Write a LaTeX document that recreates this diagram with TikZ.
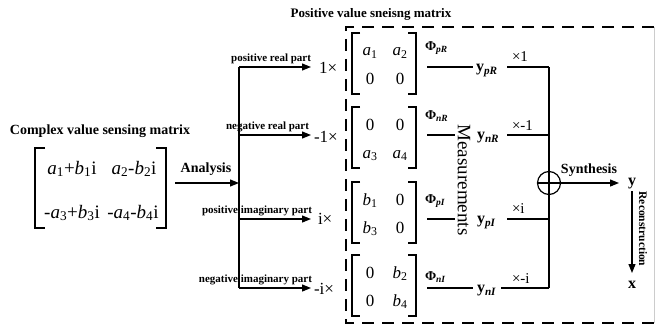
\documentclass[tikz,border=0pt]{standalone}
\usepackage{fontspec}
\setmainfont{Liberation Serif}
\usetikzlibrary{arrows.meta}
\newcommand\ent[2]{\textit{#1}\textsubscript{#2}}
\newcommand\bsub[2]{\textbf{#1}\textsubscript{\textbf{\textit{#2}}}}
\begin{document}
\begin{tikzpicture}[x=1pt,y=-1pt, line width=1.2pt,
  every node/.style={inner sep=0pt, outer sep=0pt},
  arr/.style={-{Triangle[length=9pt,width=7pt]}},
  title/.style={font=\fontsize{14}{16}\selectfont\bfseries},
  part/.style={font=\fontsize{11}{13}\selectfont\bfseries, anchor=south east},
  bigent/.style={font=\fontsize{19}{21}\selectfont, anchor=base},
  ent/.style={font=\fontsize{17}{19}\selectfont, anchor=base},
  mult/.style={font=\fontsize{17}{19}\selectfont, anchor=base west},
  phi/.style={font=\fontsize{13.5}{15}\selectfont, anchor=west},
  yl/.style={font=\fontsize{16}{18}\selectfont, anchor=base west},
  fac/.style={font=\fontsize{15}{17}\selectfont, anchor=base west},
  dbox/.style={dash pattern=on 12pt off 8pt, line width=1.3pt}
]
\useasboundingbox (0,0) rectangle (655,329);

% titles
\node[title] (t1) at (100,131) {Complex value sensing matrix};
\node[title, font=\fontsize{13}{15}\selectfont\bfseries] (t2) at (371,14) {Positive value sneisng matrix};

% big matrix
\draw (45,148) -| (35,228) -- (45,228);
\draw (156,148) -| (166,228) -- (156,228);
\node[bigent] (c11) at (72,174) {\ent{a}{1}+\ent{b}{1}i};
\node[bigent] (c12) at (134,174) {\ent{a}{2}-\ent{b}{2}i};
\node[bigent] (c21) at (72,218) {-\ent{a}{3}+\ent{b}{3}i};
\node[bigent] (c22) at (133,218) {-\ent{a}{4}-\ent{b}{4}i};

% analysis
\coordinate (an0) at (175,183);
\coordinate (an1) at (239,183);
\draw[arr] (an0) -- (an1);
\node[title, anchor=south] (anl) at (206,176) {Analysis};

% splitting bus
\coordinate (s1) at (239,67);
\coordinate (s2) at (239,135);
\coordinate (s3) at (239,219);
\coordinate (s4) at (239,288);
\draw (s1) -- (s4);
\coordinate (e1) at (311,67);
\coordinate (e2) at (311,135);
\coordinate (e3) at (311,219);
\coordinate (e4) at (311,288);
\draw[arr] (s1) -- (e1);
\draw[arr] (s2) -- (e2);
\draw[arr] (s3) -- (e3);
\draw[arr] (s4) -- (e4);
\node[part] (p1) at (311,64) {positive real part};
\node[part] (p2) at (309,132) {negative real part};
\node[part] (p3) at (312,216) {positive imaginary part};
\node[part] (p4) at (312,285) {negative imaginary part};

% multipliers
\node[mult] (m1) at (319,74) {1×};
\node[mult] (m2) at (314,142) {-1×};
\node[mult] (m3) at (318,224) {i×};
\node[mult] (m4) at (314,294) {-i×};

% dashed box
\draw[dbox] (654,27) -- (346,27) -- (346,323) -- (654,323);
\draw[black!20, line width=0.8pt] (654,27) -- (654,323);

% small matrices
\foreach \t in {33,107,182,255}{
  \draw (360,\t) -| (352,\t+61) -- (360,\t+61);
  \draw (408,\t) -| (416,\t+61) -- (408,\t+61);
}
\node[ent] (a11) at (370,56) {\ent{a}{1}};
\node[ent] (a12) at (400,56) {\ent{a}{2}};
\node[ent] (a21) at (370,84) {0};
\node[ent] (a22) at (400,84) {0};
\node[ent] (b11) at (370,130) {0};
\node[ent] (b12) at (400,130) {0};
\node[ent] (b21) at (370,158) {\ent{a}{3}};
\node[ent] (b22) at (400,158) {\ent{a}{4}};
\node[ent] (c11s) at (370,205) {\ent{b}{1}};
\node[ent] (c12s) at (400,205) {0};
\node[ent] (c21s) at (370,233) {\ent{b}{3}};
\node[ent] (c22s) at (400,233) {0};
\node[ent] (d11) at (370,278) {0};
\node[ent] (d12) at (400,278) {\ent{b}{2}};
\node[ent] (d21) at (370,306) {0};
\node[ent] (d22) at (400,306) {\ent{b}{4}};

% Phi labels
\node[phi] (f1) at (425,48) {\bsub{Φ}{pR}};
\node[phi] (f2) at (425,116) {\bsub{Φ}{nR}};
\node[phi] (f3) at (425,201) {\bsub{Φ}{pI}};
\node[phi] (f4) at (425,277) {\bsub{Φ}{nI}};

% measurements
\node[font=\fontsize{19}{21}\selectfont, rotate=-90] (meas) at (464,180) {Measurements};

% y labels
\node[yl] (y1) at (476,71.5) {\bsub{y}{pR}};
\node[yl] (y2) at (477,139.5) {\bsub{y}{nR}};
\node[yl] (y3) at (477,223.5) {\bsub{y}{pI}};
\node[yl] (y4) at (477,292.5) {\bsub{y}{nI}};

% row lines
\coordinate (r1a) at (427,67);  \coordinate (r1b) at (473,67);
\coordinate (r1c) at (507,67);  \coordinate (r1d) at (549,67);
\coordinate (r2a) at (427,135); \coordinate (r2b) at (455,135);
\coordinate (r2c) at (507,135); \coordinate (r2d) at (549,135);
\coordinate (r3a) at (427,219); \coordinate (r3b) at (455,219);
\coordinate (r3c) at (507,219); \coordinate (r3d) at (549,219);
\coordinate (r4a) at (427,288); \coordinate (r4b) at (473,288);
\coordinate (r4c) at (501,288); \coordinate (r4d) at (549,288);
\draw (r1a) -- (r1b); \draw (r1c) -- (r1d);
\draw (r2a) -- (r2b); \draw (r2c) -- (r2d);
\draw (r3a) -- (r3b); \draw (r3c) -- (r3d);
\draw (r4a) -- (r4b); \draw (r4c) -- (r4d);

% factors
\node[fac] (x1) at (512,62) {×1};
\node[fac] (x2) at (512,130) {×-1};
\node[fac] (x3) at (512,213) {×i};
\node[fac] (x4) at (512,283) {×-i};

% summation
\draw (r1d) -- (r4d);
\node[circle, draw, minimum size=23pt] (sum) at (549,183) {};
\draw (sum.west) -- (sum.east);
\node[font=\fontsize{16}{18}\selectfont\bfseries] (yy) at (632,184) {y};
\draw[arr] (sum.east) -- (619,183);
\node[title, anchor=south] (syn) at (589,177) {Synthesis};

% reconstruction
\node[font=\fontsize{16}{18}\selectfont\bfseries] (xx) at (632,285) {x};
\draw[arr] (632,191) -- (632,273);
\node[font=\fontsize{11.5}{13}\selectfont\bfseries, rotate=-90] (rec) at (643,229) {Reconstruction};
\end{tikzpicture}
\end{document}
